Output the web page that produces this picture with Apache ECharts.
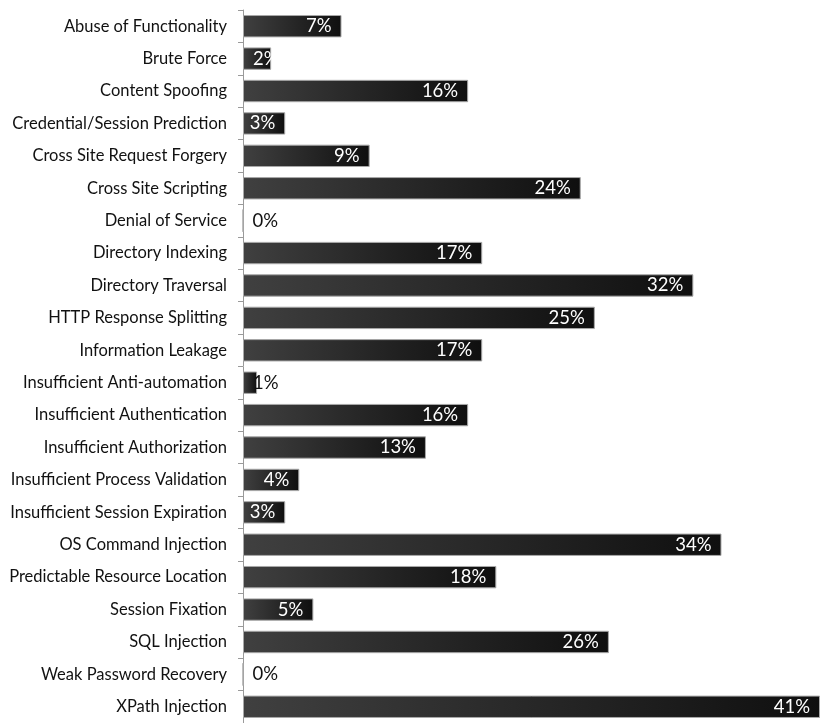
<!DOCTYPE html>
<html>
<head>
<meta charset="utf-8">
<script src="https://cdn.jsdelivr.net/npm/echarts@6/dist/echarts.min.js"></script>
<style>
  html, body { margin: 0; padding: 0; background: #ffffff; }
  #chart { width: 820px; height: 723px; }
</style>
</head>
<body>
<div id="chart"></div>
<script>
// Attack classes, listed top to bottom
const categories = [
  'Abuse of Functionality',
  'Brute Force',
  'Content Spoofing',
  'Credential/Session Prediction',
  'Cross Site Request Forgery',
  'Cross Site Scripting',
  'Denial of Service',
  'Directory Indexing',
  'Directory Traversal',
  'HTTP Response Splitting',
  'Information Leakage',
  'Insufficient Anti-automation',
  'Insufficient Authentication',
  'Insufficient Authorization',
  'Insufficient Process Validation',
  'Insufficient Session Expiration',
  'OS Command Injection',
  'Predictable Resource Location',
  'Session Fixation',
  'SQL Injection',
  'Weak Password Recovery',
  'XPath Injection'
];

// Share of sites affected, in percent
const percents = [7, 2, 16, 3, 9, 24, 0, 17, 32, 25, 17, 1, 16, 13, 4, 3, 34, 18, 5, 26, 0, 41];

const FONT = 'Lato, "Open Sans", sans-serif';

const barFill = new echarts.graphic.LinearGradient(0, 0, 1, 0, [
  { offset: 0, color: '#404040' },
  { offset: 1, color: '#0f0f0f' }
]);

// Short bars cannot hold their label at the far end, so the text starts
// just past the bar origin instead; empty/tiny bars get dark text.
const seriesData = percents.map(function (v) {
  const item = { value: v };
  if (v < 3) {
    item.label = {
      position: [10, '50%'],
      align: 'left',
      verticalAlign: 'middle',
      color: v < 2 ? '#111111' : '#ffffff'
    };
  }
  return item;
});

const chart = echarts.init(document.getElementById('chart'), null, { renderer: 'canvas' });

chart.setOption({
  animation: false,
  backgroundColor: '#ffffff',
  grid: { left: 243, top: 10, width: 578, height: 716, containLabel: false },
  xAxis: {
    type: 'value',
    min: 0,
    max: 41,
    show: false
  },
  yAxis: {
    type: 'category',
    data: categories,
    inverse: true,
    axisLine: { show: true, lineStyle: { color: '#9a9a9a', width: 1 } },
    axisTick: { show: true, length: 5, lineStyle: { color: '#9a9a9a', width: 1 } },
    axisLabel: {
      margin: 16,
      color: '#111111',
      fontFamily: FONT,
      fontSize: 16.5
    },
    splitLine: { show: false }
  },
  series: [{
    type: 'bar',
    data: seriesData,
    barCategoryGap: '31%',
    itemStyle: {
      color: barFill,
      borderColor: '#a8a8a8',
      borderWidth: 1
    },
    label: {
      show: true,
      position: 'insideRight',
      distance: 10,
      formatter: '{c}%',
      color: '#ffffff',
      fontFamily: FONT,
      fontSize: 18.5
    }
  }]
});
</script>
</body>
</html>
